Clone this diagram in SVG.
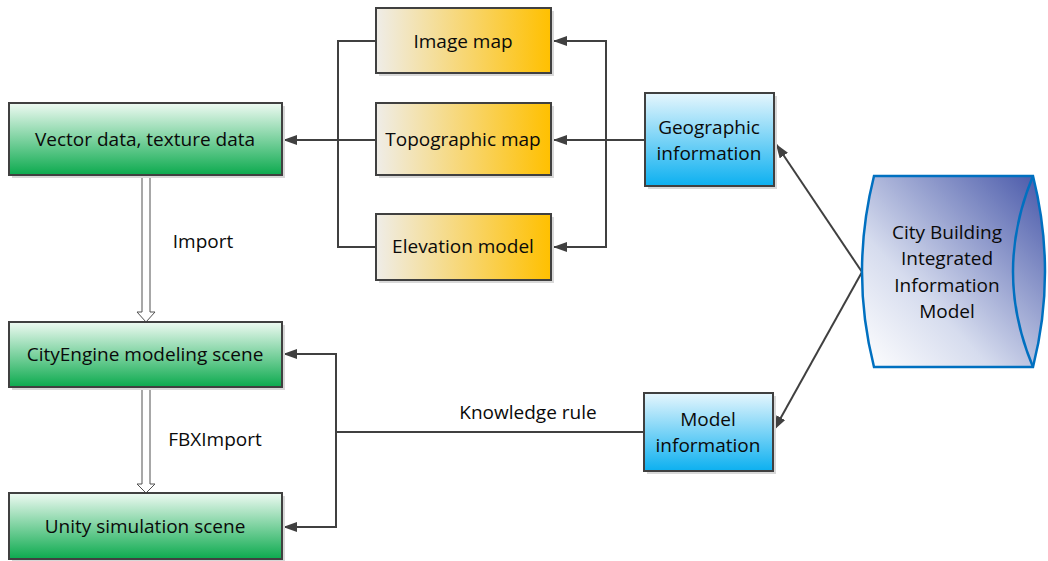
<svg xmlns="http://www.w3.org/2000/svg" width="1048" height="561" viewBox="0 0 1048 561">
<defs>
<linearGradient id="gGreen" x1="0" y1="0" x2="0" y2="1"><stop offset="0" stop-color="#eefaf2"/><stop offset="1" stop-color="#0caa4e"/></linearGradient>
<linearGradient id="gYellow" x1="0" y1="0" x2="1" y2="0"><stop offset="0" stop-color="#efede8"/><stop offset="1" stop-color="#ffc000"/></linearGradient>
<linearGradient id="gBlue" x1="0" y1="0" x2="0" y2="1"><stop offset="0" stop-color="#e6f6fd"/><stop offset="1" stop-color="#0cb0f0"/></linearGradient>
<linearGradient id="gCyl" x1="0" y1="1" x2="1" y2="0"><stop offset="0" stop-color="#ffffff"/><stop offset="0.35" stop-color="#d6dcee"/><stop offset="1" stop-color="#4656a8"/></linearGradient>
<marker id="arr" viewBox="0 0 14 10" refX="14" refY="5" markerWidth="14" markerHeight="10" markerUnits="userSpaceOnUse" orient="auto"><path d="M0,0 L14,5 L0,10 Z" fill="#404040"/></marker>
</defs>
<style>
.box{stroke:#404040;stroke-width:2}
.sh{fill:#d8d8d8}
.t{font-family:"Open Sans","Liberation Sans",sans-serif;font-size:19px;fill:#0a0a0a;text-anchor:middle}
.c{fill:none;stroke:#404040;stroke-width:2}
.hollow{fill:#fff;stroke:#505050;stroke-width:1}
</style>
<rect width="1048" height="561" fill="#fff"/>
<g id="connectors">
<path class="c" d="M376,140 L283,140" marker-end="url(#arr)"/>
<path class="c" d="M376,41 L338,41 L338,247 L376,247"/>
<path class="c" d="M645,140 L553,140" marker-end="url(#arr)"/>
<path class="c" d="M606,140 L606,41 L553,41" marker-end="url(#arr)"/>
<path class="c" d="M606,140 L606,247 L553,247" marker-end="url(#arr)"/>
<path class="c" d="M862,272 L776,144" marker-end="url(#arr)"/>
<path class="c" d="M862,272 L774,430" marker-end="url(#arr)"/>
<path class="c" d="M644,432 L336,432"/>
<path class="c" d="M336,432 L336,354 L283,354" marker-end="url(#arr)"/>
<path class="c" d="M336,432 L336,527 L283,527" marker-end="url(#arr)"/>
<path class="hollow" d="M142,176 L150,176 L150,312 L155,312 L146,322 L137,312 L142,312 Z"/>
<path class="hollow" d="M142,388 L150,388 L150,484 L155,484 L146,493 L137,484 L142,484 Z"/>
<text class="t" x="203" y="248">Import</text>
<text class="t" x="215" y="446">FBXImport</text>
<text class="t" x="528" y="419">Knowledge rule</text>
</g>
<g id="vector">
<rect class="sh" x="12" y="106" width="273" height="72"/>
<rect class="box" x="9" y="103" width="273" height="72" fill="url(#gGreen)"/>
<text class="t" x="145" y="146">Vector data, texture data</text>
</g>
<g id="cityengine">
<rect class="sh" x="12" y="325" width="273" height="65"/>
<rect class="box" x="9" y="322" width="273" height="65" fill="url(#gGreen)"/>
<text class="t" x="145" y="361">CityEngine modeling scene</text>
</g>
<g id="unity">
<rect class="sh" x="12" y="496" width="273" height="65"/>
<rect class="box" x="9" y="493" width="273" height="66" fill="url(#gGreen)"/>
<text class="t" x="145" y="533">Unity simulation scene</text>
</g>
<g id="imagemap">
<rect class="sh" x="379" y="11" width="175" height="65"/>
<rect class="box" x="376" y="8" width="175" height="65" fill="url(#gYellow)"/>
<text class="t" x="463" y="48">Image map</text>
</g>
<g id="topographic">
<rect class="sh" x="379" y="106" width="175" height="72"/>
<rect class="box" x="376" y="103" width="175" height="72" fill="url(#gYellow)"/>
<text class="t" x="463" y="146">Topographic map</text>
</g>
<g id="elevation">
<rect class="sh" x="379" y="217" width="175" height="66"/>
<rect class="box" x="376" y="214" width="175" height="66" fill="url(#gYellow)"/>
<text class="t" x="463" y="253">Elevation model</text>
</g>
<g id="geographic">
<rect class="sh" x="648" y="96" width="129" height="93"/>
<rect class="box" x="645" y="93" width="129" height="93" fill="url(#gBlue)" stroke-width="1.5"/>
<text class="t" x="709" y="134">Geographic</text>
<text class="t" x="709" y="160">information</text>
</g>
<g id="model">
<rect class="sh" x="647" y="396" width="129" height="78"/>
<rect class="box" x="644" y="393" width="129" height="78" fill="url(#gBlue)" stroke-width="1.5"/>
<text class="t" x="708" y="426">Model</text>
<text class="t" x="708" y="452">information</text>
</g>
<g id="citymodel">
<path d="M874,176 L1033,176 Q1057,272 1033,367 L874,367 Q850,272 874,176 Z" fill="url(#gCyl)" stroke="#0070c0" stroke-width="2.5"/>
<path d="M1033,176 Q993,272 1033,367" fill="none" stroke="#0070c0" stroke-width="2.5"/>
<text class="t" x="947" y="239">City Building</text>
<text class="t" x="947" y="265">Integrated</text>
<text class="t" x="947" y="292">Information</text>
<text class="t" x="947" y="318">Model</text>
</g>
</svg>
